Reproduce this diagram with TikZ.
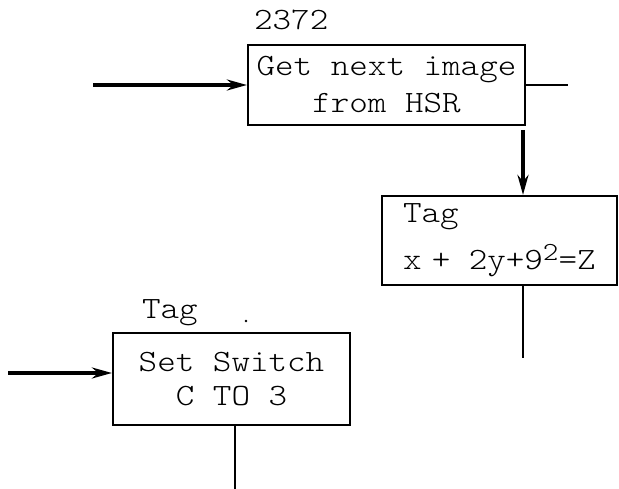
\documentclass[tikz,border=0pt]{standalone}
\usepackage{fontspec}
\setmonofont{Latin Modern Mono Light}[FakeStretch=1.14]
\usetikzlibrary{arrows.meta, positioning, calc}

\begin{document}
\begin{tikzpicture}[
    x=1pt, y=-1pt,
    font=\ttfamily\fontsize{31}{37}\selectfont,
    box/.style={rectangle, draw, line width=2.2pt, inner sep=0pt},
    lbl/.style={inner sep=0pt},
    arrow/.style={-{Stealth[length=20pt,width=11pt]}, line width=3.2pt},
    line/.style={line width=2.4pt}
]
\path[fill=white, use as bounding box] (0,0) rectangle (619,489);

\node[box, minimum width=277pt, minimum height=80pt, align=center] (getimg) at (386.5,85) {Get next image\\from HSR};
\node[box, minimum width=235pt, minimum height=89pt, align=left, text width=193pt, inner xsep=21pt] (tagcalc) at (499.5,240.5) {Tag\\[10pt]x + \hspace{8pt}2y+9\raisebox{9pt}{\fontsize{26}{26}\selectfont 2}=Z};
\node[box, minimum width=237pt, minimum height=92pt, align=center] (setsw) at (231.5,379) {Set Switch\\[-3pt]C TO 3};

\node[lbl, above=14pt of getimg.north west, anchor=south west, xshift=7pt] (tagnum) {2372};
\node[lbl, above=13pt of setsw.north west, anchor=base west, xshift=30pt] (tagsw) {Tag};

\coordinate (in1) at (93,85);
\coordinate (out1) at (568,85);
\coordinate (dn) at (523,130);
\coordinate (out2) at (523,358);
\coordinate (in3) at (8,373);
\coordinate (out3) at (235,489);

\draw[arrow] (in1) -- (getimg.west);
\draw[line] (getimg.east) -- (out1);
\draw[arrow] (dn) -- (dn |- tagcalc.north);
\draw[line] (out2 |- tagcalc.south) -- (out2);
\draw[arrow] (in3) -- (in3 -| setsw.west);
\draw[line] (out3 |- setsw.south) -- (out3);
\fill (246,321) circle (1.3pt);
\end{tikzpicture}
\end{document}
